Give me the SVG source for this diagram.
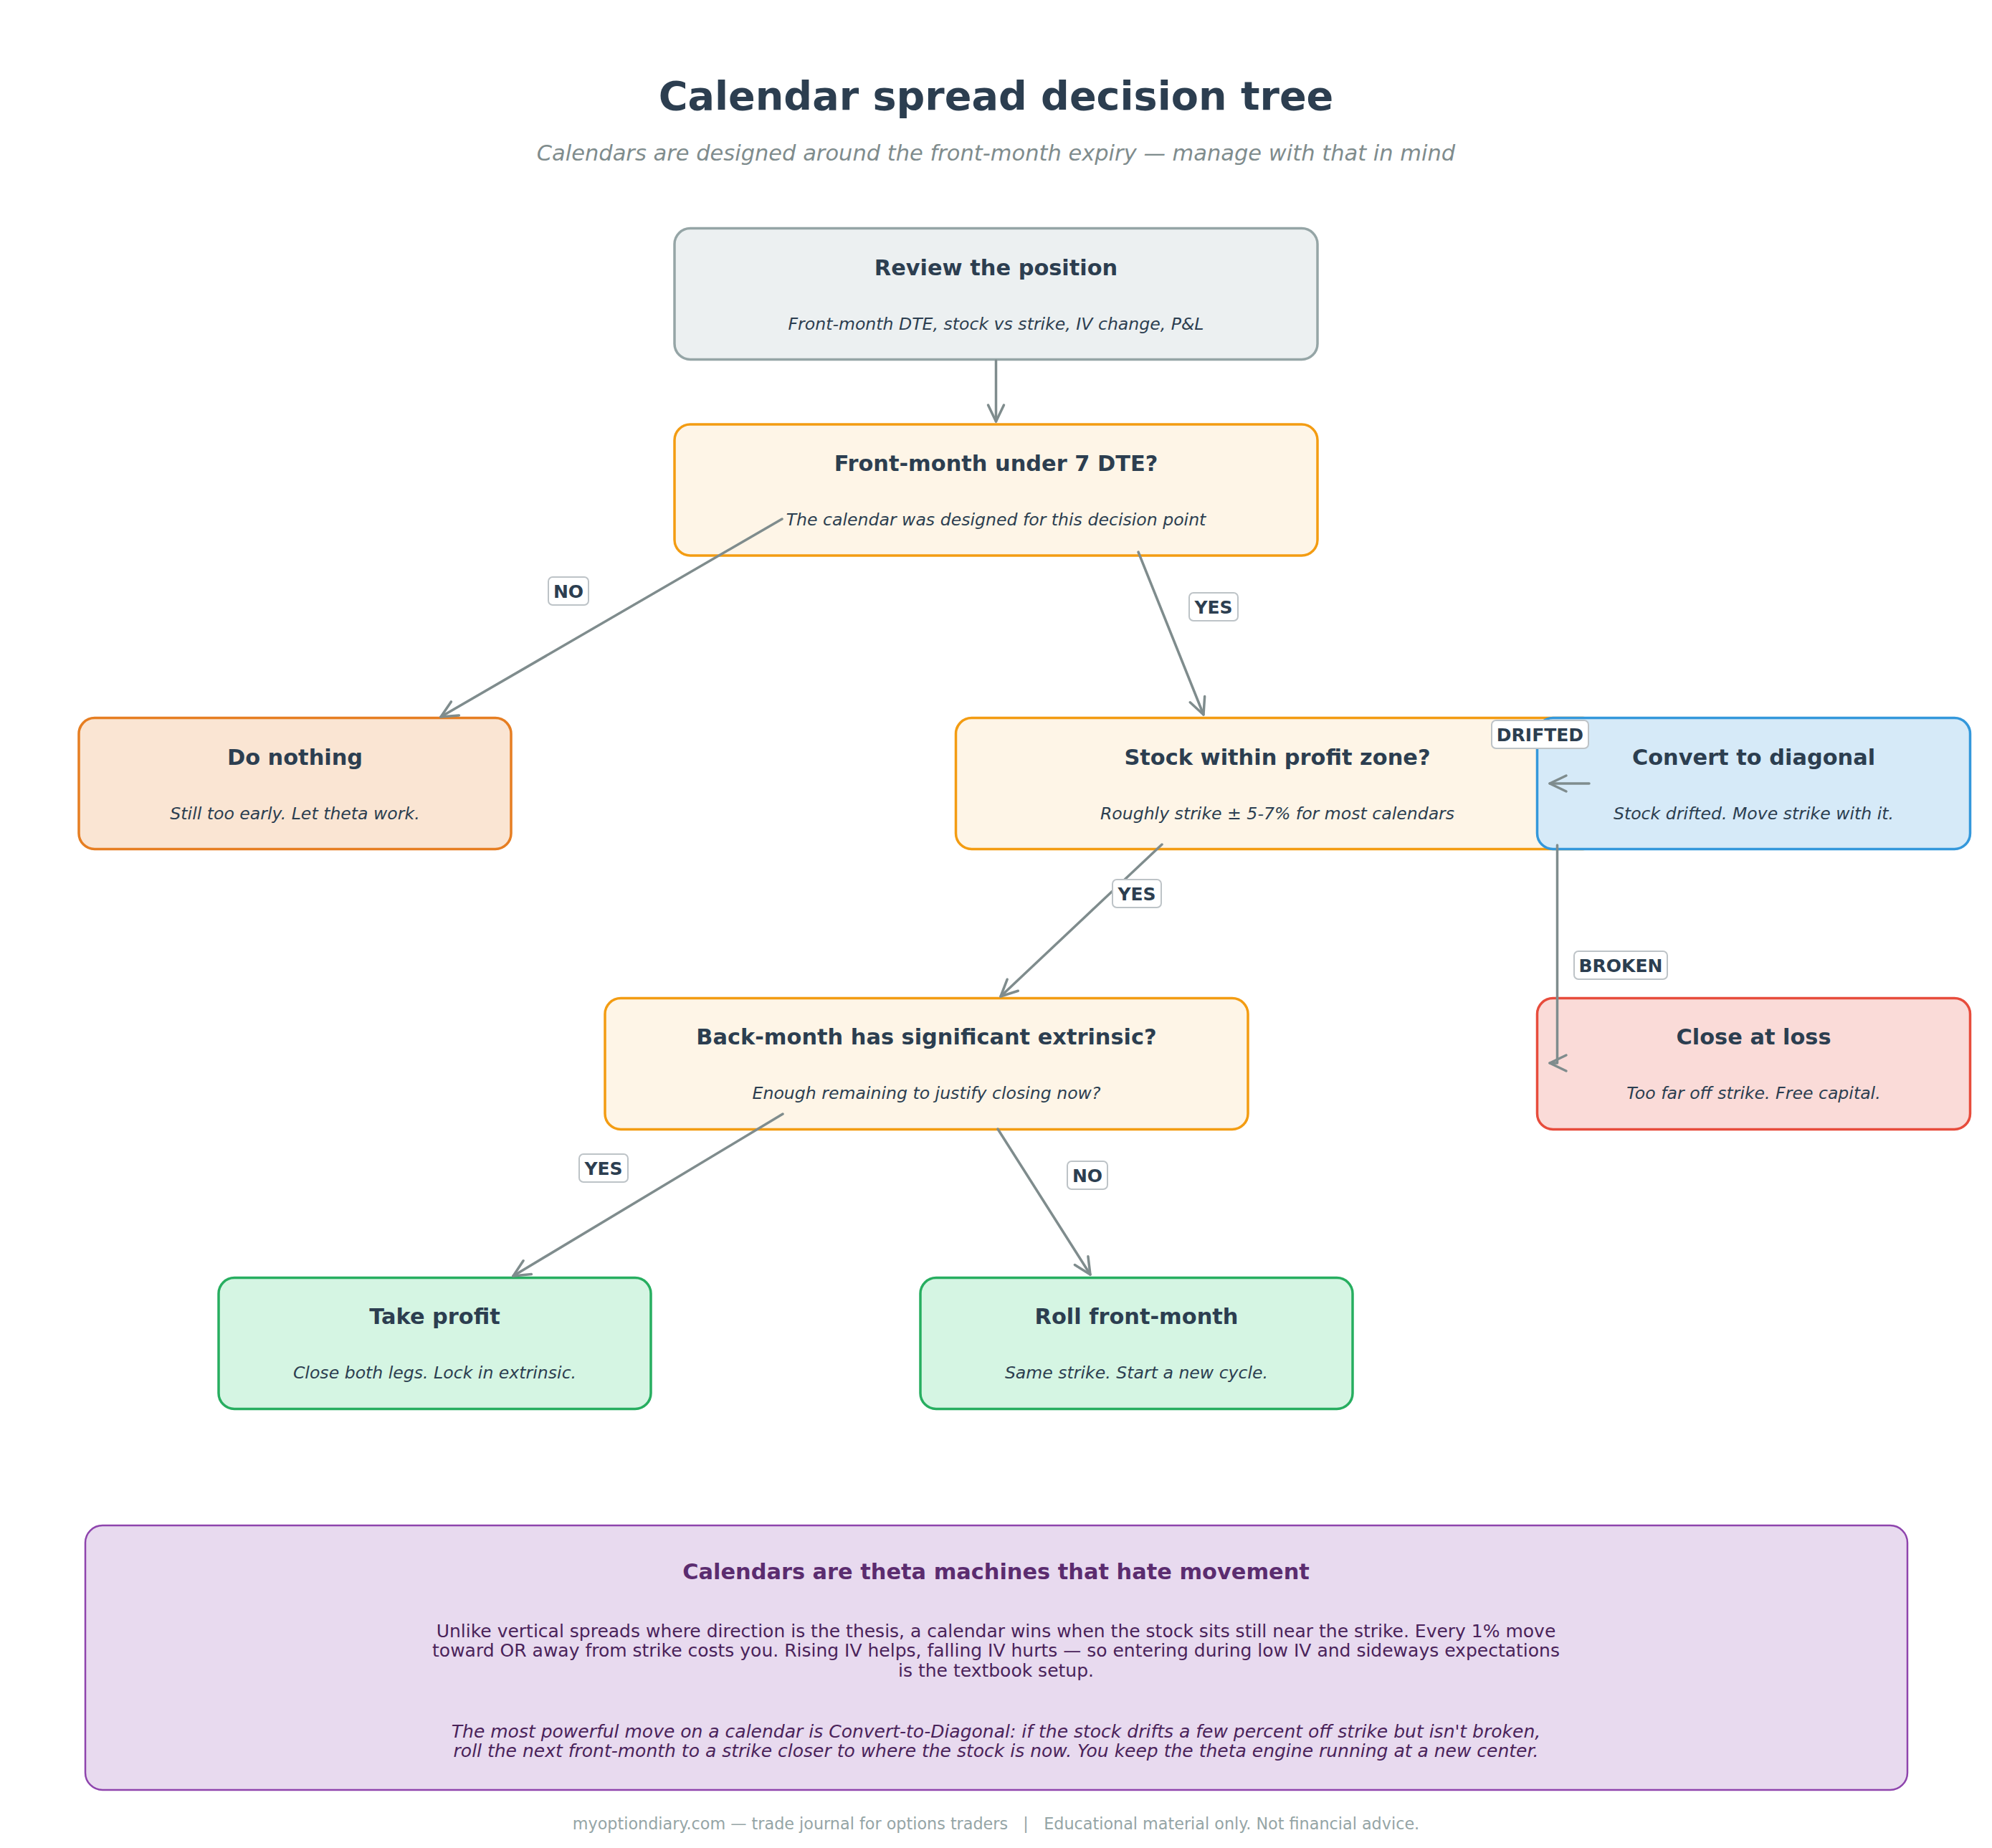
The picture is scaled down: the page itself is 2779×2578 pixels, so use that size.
<svg xmlns="http://www.w3.org/2000/svg" width="2779" height="2578" viewBox="0 0 2779 2578">
<style>
  .ttl{font-family:"DejaVu Sans",sans-serif;font-weight:bold;font-size:30.4px;fill:#2c3e50;text-anchor:middle}
  .sub{font-family:"DejaVu Sans",sans-serif;font-style:italic;font-size:23.6px;fill:#2c3e50;text-anchor:middle}
  .box{stroke-width:3.5}
  .grey{fill:#ecf0f1;stroke:#95a5a6}
  .dec{fill:#fef5e7;stroke:#f39c12}
  .wait{fill:#fae5d3;stroke:#e67e22}
  .blue{fill:#d6eaf8;stroke:#3498db}
  .red{fill:#fadbd8;stroke:#e74c3c}
  .green{fill:#d5f5e3;stroke:#27ae60}
  .edge{fill:none;stroke:#7f8c8d;stroke-width:3.5;stroke-linecap:round;stroke-linejoin:round}
  .lbl{fill:#ffffff;stroke:#bdc3c7;stroke-width:2}
  .lt{font-family:"DejaVu Sans",sans-serif;font-weight:bold;font-size:25px;fill:#2c3e50;text-anchor:middle}
</style>
<defs>
  <marker id="arr" markerUnits="userSpaceOnUse" markerWidth="30" markerHeight="30" viewBox="0 0 30 30" refX="24" refY="12" orient="auto" overflow="visible">
    <path d="M1,1 L24,12 L1,23" fill="none" stroke="#7f8c8d" stroke-width="3.5" stroke-linecap="round" stroke-linejoin="round"/>
  </marker>
</defs>
<rect width="2779" height="2578" fill="#ffffff"/>
<text x="1389.5" y="153" font-family="DejaVu Sans, sans-serif" font-weight="bold" font-size="55.6" fill="#2c3e50" text-anchor="middle">Calendar spread decision tree</text>
<text x="1389.5" y="224" font-family="DejaVu Sans, sans-serif" font-style="italic" font-size="30.5" fill="#7f8c8d" text-anchor="middle">Calendars are designed around the front-month expiry — manage with that in mind</text>

<g id="review">
  <rect class="box grey" x="941" y="318.5" width="897" height="183" rx="22"/>
  <text class="ttl" x="1389.5" y="383.5">Review the position</text>
  <text class="sub" x="1389.5" y="459.5">Front-month DTE, stock vs strike, IV change, P&amp;L</text>
</g>
<g id="front-month">
  <rect class="box dec" x="941" y="592" width="897" height="183" rx="22"/>
  <text class="ttl" x="1389.5" y="657">Front-month under 7 DTE?</text>
  <text class="sub" x="1389.5" y="733">The calendar was designed for this decision point</text>
</g>
<g id="do-nothing">
  <rect class="box wait" x="110" y="1001.5" width="603" height="183" rx="22"/>
  <text class="ttl" x="411.5" y="1066.5">Do nothing</text>
  <text class="sub" x="411.5" y="1142.5">Still too early. Let theta work.</text>
</g>
<g id="stock-zone">
  <rect class="box dec" x="1333.5" y="1001.5" width="897" height="183" rx="22"/>
  <text class="ttl" x="1782" y="1066.5">Stock within profit zone?</text>
  <text class="sub" x="1782" y="1142.5">Roughly strike ± 5-7% for most calendars</text>
</g>
<g id="convert">
  <rect class="box blue" x="2144.5" y="1001.5" width="604" height="183" rx="22"/>
  <text class="ttl" x="2446.5" y="1066.5">Convert to diagonal</text>
  <text class="sub" x="2446.5" y="1142.5">Stock drifted. Move strike with it.</text>
</g>
<g id="back-month">
  <rect class="box dec" x="844" y="1392.5" width="897" height="183" rx="22"/>
  <text class="ttl" x="1292.5" y="1457">Back-month has significant extrinsic?</text>
  <text class="sub" x="1292.5" y="1533">Enough remaining to justify closing now?</text>
</g>
<g id="close-loss">
  <rect class="box red" x="2144.5" y="1392.5" width="604" height="183" rx="22"/>
  <text class="ttl" x="2446.5" y="1457">Close at loss</text>
  <text class="sub" x="2446.5" y="1533">Too far off strike. Free capital.</text>
</g>
<g id="take-profit">
  <rect class="box green" x="305" y="1782.5" width="603" height="183" rx="22"/>
  <text class="ttl" x="606.5" y="1847">Take profit</text>
  <text class="sub" x="606.5" y="1923">Close both legs. Lock in extrinsic.</text>
</g>
<g id="roll">
  <rect class="box green" x="1284" y="1782.5" width="603" height="183" rx="22"/>
  <text class="ttl" x="1585.5" y="1847">Roll front-month</text>
  <text class="sub" x="1585.5" y="1923">Same strike. Start a new cycle.</text>
</g>

<g id="connectors">
  <path class="edge" d="M1389.5,503 L1389.5,588" marker-end="url(#arr)"/>
  <path class="edge" d="M1091,724 L615,1000" marker-end="url(#arr)"/>
  <path class="edge" d="M1588,770 L1679,997" marker-end="url(#arr)"/>
  <path class="edge" d="M1621,1178 L1396,1390" marker-end="url(#arr)"/>
  <path class="edge" d="M2217,1093 L2162,1093" marker-end="url(#arr)"/>
  <path class="edge" d="M2172.5,1179 L2172.5,1483 L2162,1483" marker-end="url(#arr)"/>
  <path class="edge" d="M1092,1554 L716,1780" marker-end="url(#arr)"/>
  <path class="edge" d="M1392,1575 L1521,1778" marker-end="url(#arr)"/>
  <g id="edge-labels">
    <rect class="lbl" x="765" y="805" width="56" height="39" rx="6"/>
    <text class="lt" x="793" y="833.5">NO</text>
    <rect class="lbl" x="1659" y="827" width="68" height="39" rx="6"/>
    <text class="lt" x="1693" y="855.5">YES</text>
    <rect class="lbl" x="2081" y="1005" width="135" height="39" rx="6"/>
    <text class="lt" x="2148.5" y="1033.5">DRIFTED</text>
    <rect class="lbl" x="1552" y="1227" width="68" height="39" rx="6"/>
    <text class="lt" x="1586" y="1255.5">YES</text>
    <rect class="lbl" x="2196" y="1327" width="130" height="39" rx="6"/>
    <text class="lt" x="2261" y="1355.5">BROKEN</text>
    <rect class="lbl" x="808" y="1610" width="68" height="39" rx="6"/>
    <text class="lt" x="842" y="1638.5">YES</text>
    <rect class="lbl" x="1489" y="1620" width="56" height="39" rx="6"/>
    <text class="lt" x="1517" y="1648.5">NO</text>
  </g>
</g>

<g id="insight">
  <rect x="119" y="2128" width="2542" height="369" rx="24" fill="#e8daef" stroke="#8e44ad" stroke-width="2.5"/>
  <text x="1389.5" y="2203" font-family="DejaVu Sans, sans-serif" font-weight="bold" font-size="30.4" fill="#5b2c6f" text-anchor="middle">Calendars are theta machines that hate movement</text>
  <g font-family="DejaVu Sans, sans-serif" font-size="25" fill="#4a235a" text-anchor="middle">
    <text x="1389.5" y="2283.5">Unlike vertical spreads where direction is the thesis, a calendar wins when the stock sits still near the strike. Every 1% move</text>
    <text x="1389.5" y="2311">toward OR away from strike costs you. Rising IV helps, falling IV hurts — so entering during low IV and sideways expectations</text>
    <text x="1389.5" y="2338.5">is the textbook setup.</text>
    <text x="1389.5" y="2423.5" font-style="italic">The most powerful move on a calendar is Convert-to-Diagonal: if the stock drifts a few percent off strike but isn't broken,</text>
    <text x="1389.5" y="2451" font-style="italic">roll the next front-month to a strike closer to where the stock is now. You keep the theta engine running at a new center.</text>
  </g>
</g>
<text x="1389.5" y="2552" font-family="DejaVu Sans, sans-serif" font-size="22.3" fill="#95a5a6" text-anchor="middle" xml:space="preserve">myoptiondiary.com — trade journal for options traders   |   Educational material only. Not financial advice.</text>
</svg>
